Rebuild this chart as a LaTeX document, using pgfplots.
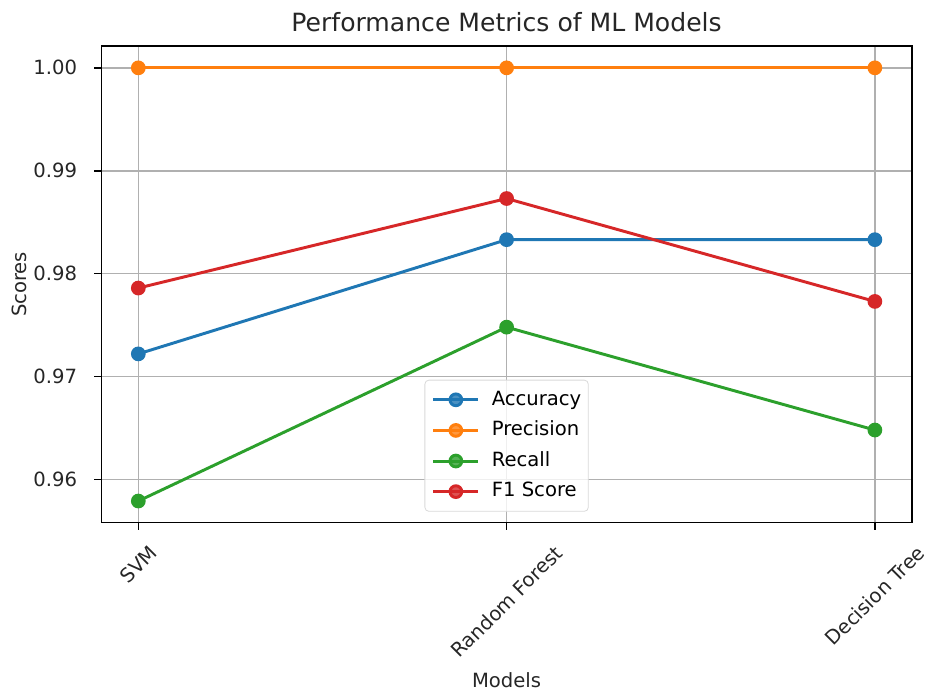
\documentclass[border=0pt]{standalone}
\usepackage{pgfplots}
\pgfplotsset{compat=1.18}
\usepackage{fontspec}
\setmainfont{DejaVu Sans}
\definecolor{c1}{HTML}{1F77B4}
\definecolor{c2}{HTML}{FF7F0E}
\definecolor{c3}{HTML}{2CA02C}
\definecolor{c4}{HTML}{D62728}
\definecolor{gridc}{HTML}{B0B0B0}
\begin{document}
\begin{tikzpicture}
\begin{axis}[
  scale only axis, width=405.1pt, height=238.25pt,
  xmin=-0.1, xmax=2.1, ymin=0.955795, ymax=1.002105,
  xtick={0,1,2},
  xticklabels={\rotatebox{45}{SVM},\rotatebox{45}{Random Forest},\rotatebox{45}{Decision Tree}},
  ytick={0.96,0.97,0.98,0.99,1.00},
  scaled y ticks=false,
  /pgf/number format/fixed,
  /pgf/number format/fixed zerofill,
  /pgf/number format/precision=2,
  /pgf/number format/assume math mode=true,
  tick label style={font=\fontsize{9.8}{11.8}\selectfont, black!85},
  xticklabel style={anchor=north, inner sep=0pt, yshift=-7pt},
  yticklabel style={anchor=east, inner sep=0pt, xshift=-8.5pt},
  xtick pos=bottom, ytick pos=left,
  tick align=outside, major tick length=3.5pt,
  tick style={black, line width=0.79pt},
  axis line style={line width=0.79pt},
  grid=major,
  major grid style={color=gridc, line width=0.79pt},
  title={Performance Metrics of ML Models},
  title style={at={(axis description cs:0.5,1.0304)}, anchor=base, yshift=-6pt, font=\fontsize{12.55}{14}\selectfont, black!85},
  xlabel={Models},
  xlabel style={at={(axis description cs:0.5,-0.3459)}, anchor=base, font=\fontsize{9.8}{11.8}\selectfont, black!85},
  ylabel={Scores},
  ylabel style={at={(axis description cs:-0.0923,0.5)}, anchor=base, font=\fontsize{9.8}{11.8}\selectfont, black!85},
  every axis plot/.append style={line width=1.47pt, mark=*, mark size=2.94pt, mark options={solid}},
  legend image code/.code={\draw[mark repeat=2,mark phase=2,#1] plot coordinates {(0pt,0pt) (11.25pt,0pt) (22.5pt,0pt)};},
  legend cell align=left,
  legend style={at={(0.5,0.023)}, anchor=south, draw=black!15, rounded corners=2pt,
    fill=white, fill opacity=0.8, text opacity=1, font=\fontsize{9.8}{11.8}\selectfont,
    inner xsep=3.5pt, inner ysep=5pt, row sep=5.6pt, column sep=6pt,
    nodes={inner sep=0pt, text height=7.5pt, text depth=2.2pt}},
]
\addplot[c1, mark options={fill=c1, draw=c1}] coordinates {(0,0.9722) (1,0.9833) (2,0.9833)};
\addlegendentry{Accuracy}
\addplot[c2, mark options={fill=c2, draw=c2}] coordinates {(0,1.0) (1,1.0) (2,1.0)};
\addlegendentry{Precision}
\addplot[c3, mark options={fill=c3, draw=c3}] coordinates {(0,0.9579) (1,0.9748) (2,0.9648)};
\addlegendentry{Recall}
\addplot[c4, mark options={fill=c4, draw=c4}] coordinates {(0,0.9786) (1,0.9873) (2,0.9773)};
\addlegendentry{F1 Score\rule{2pt}{0pt}}
\end{axis}
\pgfresetboundingbox
\path ([xshift=-50.75pt,yshift=-85.15pt]current axis.south west) rectangle ([xshift=9.15pt,yshift=23.1pt]current axis.north east);
\end{tikzpicture}
\end{document}
